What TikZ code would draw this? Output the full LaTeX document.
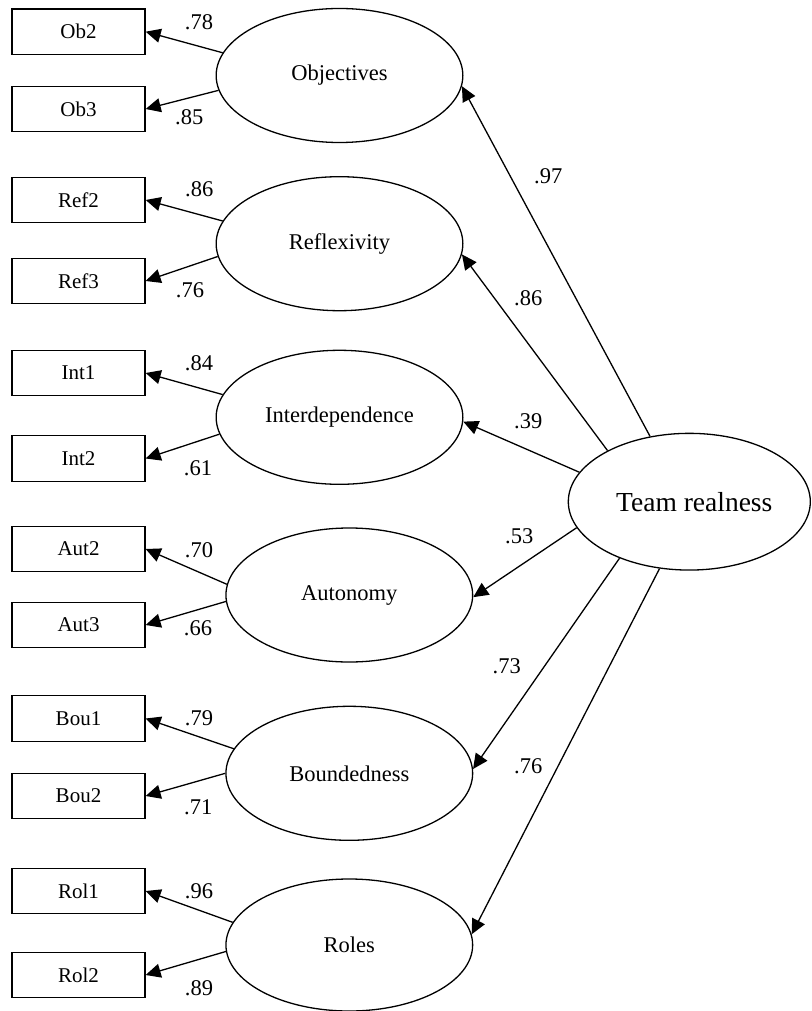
\documentclass[tikz,border=0pt]{standalone}
\usepackage{fontspec}
\setmainfont{Liberation Serif}
\usetikzlibrary{arrows.meta,shapes.geometric}
\begin{document}
\begin{tikzpicture}[x=1pt,y=-1pt,
  obs/.style={draw,line width=1.3pt,rectangle,minimum width=133pt,minimum height=45.5pt,inner sep=0pt,font=\fontsize{21}{25}\selectfont},
  lat/.style={draw,line width=1.3pt,ellipse,minimum width=246.7pt,minimum height=134pt,inner sep=0pt,font=\fontsize{22.5}{27}\selectfont},
  load/.style={line width=1.3pt,-{Triangle[length=15pt,width=14pt]}},
  coef/.style={inner sep=0pt,font=\fontsize{22.5}{27}\selectfont}]
\useasboundingbox (0,0) rectangle (811,1011);
% observed boxes
\node[obs] (ob2) at (78.5,31.7) {Ob2};
\node[obs] (ob3) at (78.5,109) {Ob3};
\node[obs] (ref2) at (78.5,200) {Ref2};
\node[obs] (ref3) at (78.5,281) {Ref3};
\node[obs] (int1) at (78.5,373) {Int1};
\node[obs] (int2) at (78.5,458.5) {Int2};
\node[obs] (aut2) at (78.5,549) {Aut2};
\node[obs] (aut3) at (78.5,625) {Aut3};
\node[obs] (bou1) at (78.5,718.5) {Bou1};
\node[obs] (bou2) at (78.5,796) {Bou2};
\node[obs] (rol1) at (78.5,891) {Rol1};
\node[obs] (rol2) at (78.5,975) {Rol2};
% latent factors
\node[lat] (obj) at (339.5,75.5) {Objectives};
\node[lat] (refl) at (339.5,243.7) {Reflexivity};
\node[lat] (inter) at (339.5,417.3) {Interdependence};
\node[lat] (auto) at (349.3,595) {Autonomy};
\node[lat] (bound) at (349.3,773.3) {Boundedness};
\node[lat,minimum height=132pt] (roles) at (349.3,945) {Roles};
\node[draw,line width=1.3pt,ellipse,minimum width=242pt,minimum height=136.7pt,inner sep=0pt,font=\fontsize{27.5}{32}\selectfont] (team) at (689.3,501.7) {\hspace*{10pt}Team realness};
% loadings
\draw[load] (obj.169) -- (ob2.east);
\draw[load] (obj.187) -- (ob3.east);
\draw[load] (refl.169) -- (ref2.east);
\draw[load] (refl.186.5) -- (ref3.east);
\draw[load] (inter.169) -- (int1.east);
\draw[load] (inter.188.7) -- (int2.east);
\draw[load] (auto.175) -- (aut2.east);
\draw[load] (auto.183.8) -- (aut3.east);
\draw[load] (bound.168.6) -- (bou1.east);
\draw[load] (bound.180.5) -- (bou2.east);
\draw[load] (roles.169) -- (rol1.east);
\draw[load] (roles.183) -- (rol2.east);
% structural paths
\draw[load] (team.121.2) -- (obj.355.6);
\draw[load] (team.148.8) -- (refl.355.5);
\draw[load] (team.165.6) -- (inter.358.4);
\draw[load] (team.193.3) -- (auto.359);
\draw[load] (team.219.4) -- (bound.2.3);
\draw[load] (team.246) -- (roles.5.4);
% loading coefficients
\node[coef] (c1) at (199,21.7) {.78};
\node[coef] (c2) at (189.3,116.7) {.85};
\node[coef] (c3) at (199.3,189.3) {.86};
\node[coef] (c4) at (190,290) {.76};
\node[coef] (c5) at (199,363.3) {.84};
\node[coef] (c6) at (198,468.3) {.61};
\node[coef] (c7) at (199,550) {.70};
\node[coef] (c8) at (198,628.3) {.66};
\node[coef] (c9) at (199,718.3) {.79};
\node[coef] (c10) at (198.3,807) {.71};
\node[coef] (c11) at (199,891) {.96};
\node[coef] (c12) at (199,988.3) {.89};
% structural coefficients
\node[coef] (s1) at (548.3,176.7) {.97};
\node[coef] (s2) at (528.3,298.3) {.86};
\node[coef] (s3) at (528.3,421.7) {.39};
\node[coef] (s4) at (519.3,536.7) {.53};
\node[coef] (s5) at (506.7,666.7) {.73};
\node[coef] (s6) at (528.3,766.7) {.76};
\end{tikzpicture}
\end{document}
